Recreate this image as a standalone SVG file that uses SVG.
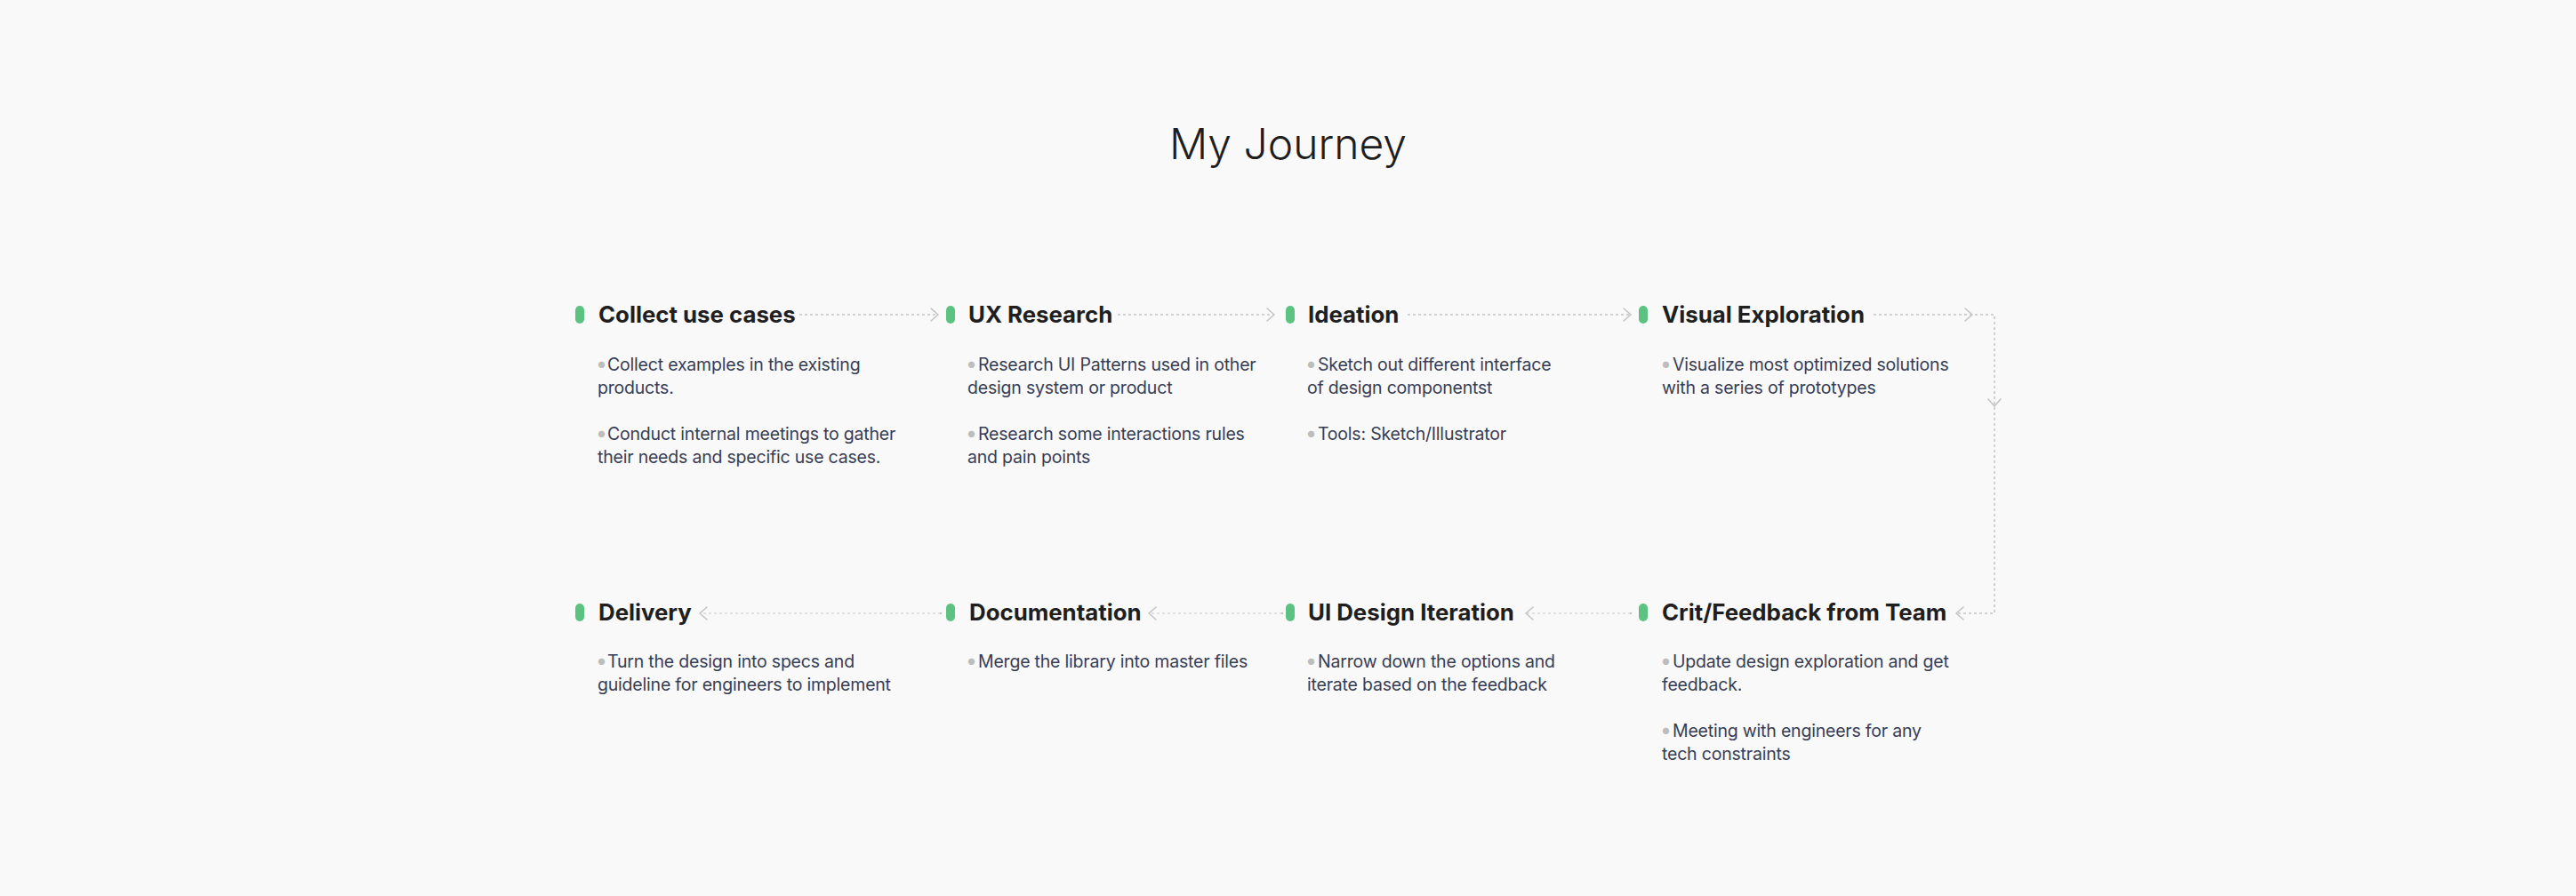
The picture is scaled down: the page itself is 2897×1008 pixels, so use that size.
<svg xmlns="http://www.w3.org/2000/svg" xmlns:xlink="http://www.w3.org/1999/xlink" width="2897" height="1008" viewBox="0 0 2897 1008">
  <style>
    .h { font-family: Inter, "Liberation Sans", sans-serif; font-weight: 300; font-size: 48px; fill: #1e1e1e; }
    .t { font-family: Inter, "Liberation Sans", sans-serif; font-weight: 700; font-size: 25.8px; fill: #201e1f; }
    .b { font-family: Inter, "Liberation Sans", sans-serif; font-weight: 400; font-size: 19.5px; letter-spacing: -0.2px; fill: #373d55; }
    .dot { fill: #bdbdbd; font-size: 23px; }
    .pill { fill: #5cc281; }
    .c1 { fill: none; stroke: #c4c4c4; stroke-width: 1.5; stroke-dasharray: 3 3; }
    .c2 { fill: none; stroke: #c8c8c8; stroke-width: 1; stroke-dasharray: 3 3; }
    .chev { fill: none; stroke: #c4c4c4; stroke-width: 1.6; stroke-linecap: round; stroke-linejoin: round; }
    .end { fill: #c8c8c8; }
  </style>
  <defs>
    <path id="chev" class="chev" d="M-8,-7 L0,0 L-8,7"/>
    <rect id="pill" class="pill" x="-5" y="-10" width="10" height="20" rx="5"/>
  </defs>
  <rect width="2897" height="1008" fill="#f9f9f9"/>

  <text class="h" x="1448.5" y="179" text-anchor="middle">My Journey</text>

  <g id="connectors">
    <path class="c1" d="M899,354 H1054"/>
    <use xlink:href="#chev" transform="translate(1055,354)"/>
    <path class="c1" d="M1257,354 H1432"/>
    <use xlink:href="#chev" transform="translate(1433,354)"/>
    <path class="c1" d="M1583,354 H1833"/>
    <use xlink:href="#chev" transform="translate(1834,354)"/>
    <path class="c1" d="M2107,354 H2243 V690 H2201"/>
    <use xlink:href="#chev" transform="translate(2218,354)"/>
    <use xlink:href="#chev" transform="translate(2243,457) rotate(90)"/>
    <use xlink:href="#chev" transform="translate(2200,690) rotate(180)"/>
    <path class="c2" d="M1834,690 H1717"/>
    <circle class="end" cx="1834" cy="690" r="1.3"/>
    <use xlink:href="#chev" transform="translate(1716,690) rotate(180)"/>
    <path class="c2" d="M1442,690 H1293"/>
    <circle class="end" cx="1442" cy="690" r="1.3"/>
    <use xlink:href="#chev" transform="translate(1292,690) rotate(180)"/>
    <path class="c2" d="M1058,690 H788"/>
    <circle class="end" cx="1058" cy="690" r="1.3"/>
    <use xlink:href="#chev" transform="translate(787,690) rotate(180)"/>
  </g>

  <g id="collect-use-cases">
    <use xlink:href="#pill" x="652" y="354"/>
    <text class="t" x="673" y="363">Collect use cases</text>
    <text class="b" x="670" y="417"><tspan class="dot">•</tspan><tspan x="683">Collect examples in the existing</tspan></text>
    <text class="b" x="672" y="443">products.</text>
    <text class="b" x="670" y="495"><tspan class="dot">•</tspan><tspan x="683">Conduct internal meetings to gather</tspan></text>
    <text class="b" x="672" y="521">their needs and specific use cases.</text>
  </g>

  <g id="ux-research">
    <use xlink:href="#pill" x="1069" y="354"/>
    <text class="t" x="1089" y="363">UX Research</text>
    <text class="b" x="1086" y="417"><tspan class="dot">•</tspan><tspan x="1100">Research UI Patterns used in other</tspan></text>
    <text class="b" x="1088" y="443">design system or product</text>
    <text class="b" x="1086" y="495"><tspan class="dot">•</tspan><tspan x="1100">Research some interactions rules</tspan></text>
    <text class="b" x="1088" y="521">and pain points</text>
  </g>

  <g id="ideation">
    <use xlink:href="#pill" x="1451" y="354"/>
    <text class="t" x="1471" y="363">Ideation</text>
    <text class="b" x="1468" y="417"><tspan class="dot">•</tspan><tspan x="1482">Sketch out different interface</tspan></text>
    <text class="b" x="1470" y="443">of design componentst</text>
    <text class="b" x="1468" y="495"><tspan class="dot">•</tspan><tspan x="1482">Tools: Sketch/Illustrator</tspan></text>
  </g>

  <g id="visual-exploration">
    <use xlink:href="#pill" x="1848" y="354"/>
    <text class="t" x="1869" y="363">Visual Exploration</text>
    <text class="b" x="1867" y="417"><tspan class="dot">•</tspan><tspan x="1881">Visualize most optimized solutions</tspan></text>
    <text class="b" x="1869" y="443">with a series of prototypes</text>
  </g>

  <g id="crit-feedback">
    <use xlink:href="#pill" x="1848" y="689"/>
    <text class="t" x="1869" y="698">Crit/Feedback from Team</text>
    <text class="b" x="1867" y="751"><tspan class="dot">•</tspan><tspan x="1881">Update design exploration and get</tspan></text>
    <text class="b" x="1869" y="777">feedback.</text>
    <text class="b" x="1867" y="829"><tspan class="dot">•</tspan><tspan x="1881">Meeting with engineers for any</tspan></text>
    <text class="b" x="1869" y="855">tech constraints</text>
  </g>

  <g id="ui-design-iteration">
    <use xlink:href="#pill" x="1451" y="689"/>
    <text class="t" x="1471" y="698">UI Design Iteration</text>
    <text class="b" x="1468" y="751"><tspan class="dot">•</tspan><tspan x="1482">Narrow down the options and</tspan></text>
    <text class="b" x="1470" y="777">iterate based on the feedback</text>
  </g>

  <g id="documentation">
    <use xlink:href="#pill" x="1069" y="689"/>
    <text class="t" x="1090" y="698">Documentation</text>
    <text class="b" x="1086" y="751"><tspan class="dot">•</tspan><tspan x="1100">Merge the library into master files</tspan></text>
  </g>

  <g id="delivery">
    <use xlink:href="#pill" x="652" y="689"/>
    <text class="t" x="673" y="698">Delivery</text>
    <text class="b" x="670" y="751"><tspan class="dot">•</tspan><tspan x="683">Turn the design into specs and</tspan></text>
    <text class="b" x="672" y="777">guideline for engineers to implement</text>
  </g>
</svg>
